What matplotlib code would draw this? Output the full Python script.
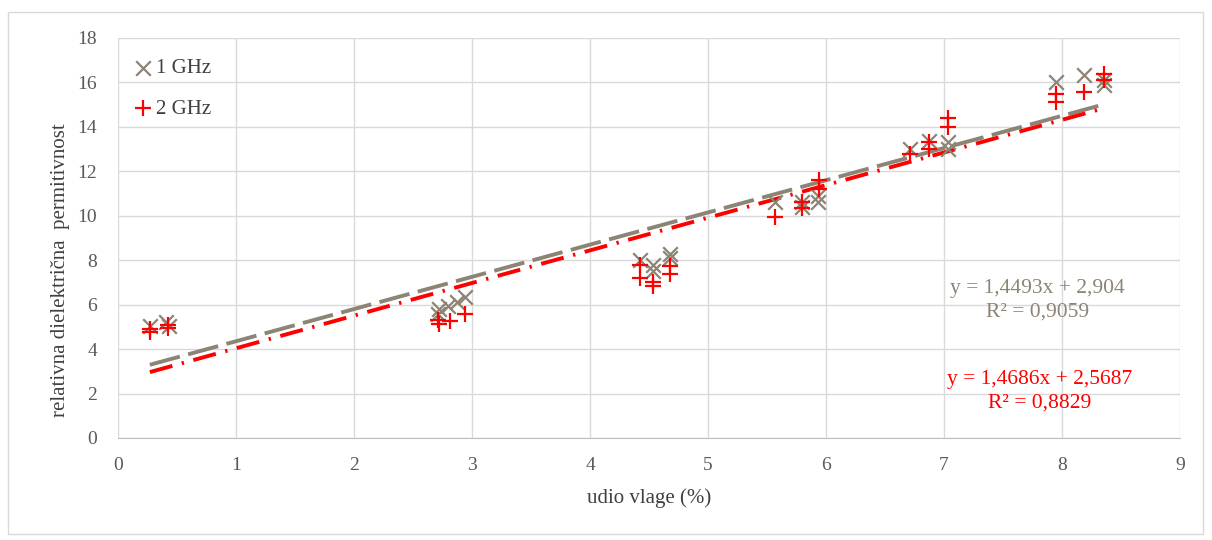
import matplotlib
matplotlib.use("Agg")
import matplotlib.pyplot as plt
import numpy as np
from matplotlib.patches import Rectangle

plt.rcParams['font.family'] = ['Liberation Serif', 'DejaVu Serif']

# 1 GHz data
x1 = [0.27, 0.41, 0.43, 2.71, 2.72, 2.80, 2.87, 2.94,
      4.42, 4.53, 4.53, 4.68, 4.68,
      5.57, 5.80, 5.80, 5.93, 5.93,
      6.71, 6.87, 7.03, 7.03,
      7.95, 8.19, 8.36, 8.36]
y1 = [5.05, 5.2, 5.05, 5.6, 5.8, 5.95, 6.1, 6.35,
      8.0, 7.8, 7.5, 8.3, 8.1,
      10.6, 10.6, 10.4, 10.9, 10.6,
      13.0, 13.35, 13.3, 13.0,
      16.0, 16.35, 16.1, 15.9]

# 2 GHz data
x2 = [0.27, 0.27, 0.42, 0.42, 2.71, 2.72, 2.81, 2.94,
      4.42, 4.42, 4.53, 4.53, 4.68, 4.68,
      5.57, 5.80, 5.80, 5.94, 5.94,
      6.71, 6.87, 6.87, 7.03, 7.03,
      7.95, 7.95, 8.19, 8.36, 8.36]
y2 = [4.75, 4.9, 5.1, 4.95, 5.3, 5.15, 5.25, 5.6,
      7.8, 7.2, 7.0, 6.85, 7.75, 7.4,
      9.95, 10.6, 10.35, 11.6, 11.2,
      12.8, 13.3, 13.0, 14.4, 14.0,
      15.5, 15.1, 15.55, 16.4, 16.1]

# trendline coefficients
slope1, icpt1, r2_1 = 1.4493, 2.904, 0.9059
slope2, icpt2, r2_2 = 1.4686, 2.5687, 0.8829

labels = ["1 GHz", "2 GHz"]
xticks = list(range(0, 10))
yticks = list(range(0, 20, 2))

gray = '#8c8474'
red = '#ff0000'

fig = plt.figure(figsize=(12.12, 5.4), dpi=100)
fig.patches.append(Rectangle((8/1212, 6/540), 1195/1212, 522/540,
                             transform=fig.transFigure, fill=False,
                             edgecolor='#d9d9d9', linewidth=1.0))
ax = fig.add_axes([118/1212, 1 - 438/540, (1180 - 118)/1212, 400/540])

ax.scatter(x1, y1, marker='x', s=110, color=gray, linewidths=1.6, label=labels[0], zorder=3)
ax.scatter(x2, y2, marker='+', s=130, color=red, linewidths=1.6, label=labels[1], zorder=4)

xa = np.array([min(x1 + x2), max(x1 + x2)])
ax.plot(xa, slope1 * xa + icpt1, color=gray, linewidth=2.8,
        linestyle=(0, (8, 2.2)), zorder=2)
ax.plot(xa, slope2 * xa + icpt2, color=red, linewidth=2.8,
        linestyle=(0, (6, 2.5, 0.6, 2.5)), zorder=2)

def fmt(v):
    return f"{v}".replace('.', ',')

ax.text(7.79, 6.2, f"y = {fmt(slope1)}x + {fmt(icpt1)}\nR² = {fmt(r2_1)}",
        color=gray, fontsize=15.5, ha='center', va='center', linespacing=1.3)
ax.text(7.81, 2.1, f"y = {fmt(slope2)}x + {fmt(icpt2)}\nR² = {fmt(r2_2)}",
        color=red, fontsize=15.5, ha='center', va='center', linespacing=1.3)

ax.set_xlim(0, 9)
ax.set_ylim(0, 18)
ax.set_xticks(xticks)
ax.set_yticks(yticks)
ax.tick_params(axis='both', length=0, labelsize=14, colors='#595959')
ax.tick_params(axis='x', pad=14)
ax.tick_params(axis='y', pad=15)
ax.grid(True, color='#d9d9d9', linewidth=1.0)
ax.set_axisbelow(True)
for s in ['top', 'right', 'left']:
    ax.spines[s].set_visible(False)
ax.spines['bottom'].set_color('#bfbfbf')

ax.set_xlabel("udio vlage (%)", fontsize=15, color='#404040', labelpad=10)
ax.set_ylabel("relativna dielektrična  permitivnost", fontsize=15, color='#404040', labelpad=10)
ax.yaxis.set_label_coords(-0.045, 0.42)

leg = ax.legend(loc='upper left', frameon=False, fontsize=15, labelspacing=1.0,
                handletextpad=0.0, handlelength=1.2, borderaxespad=0.2,
                bbox_to_anchor=(0.0, 0.98))
for t in leg.get_texts():
    t.set_color('#404040')

fig.savefig("out.png", dpi=100)
